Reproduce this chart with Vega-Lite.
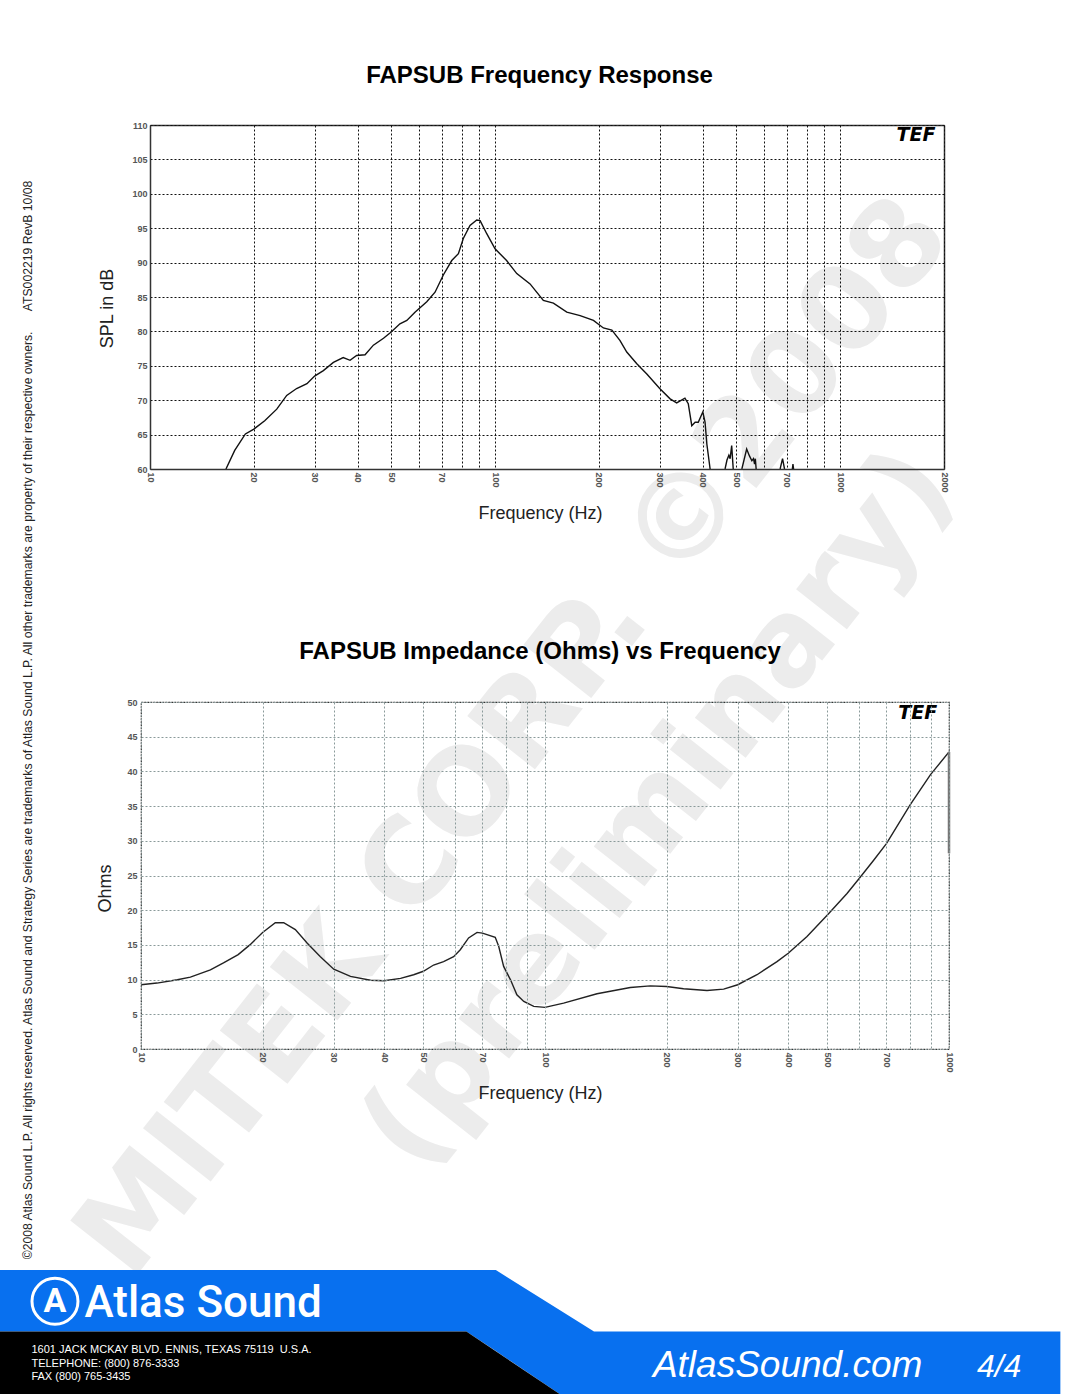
{
"$schema": "https://vega.github.io/schema/vega-lite/v6.json",
"background": "white",
"padding": {"top": 64, "left": 0, "right": 0, "bottom": 0},
"bounds": "flush",
"spacing": 233,
"config": {"font": "Liberation Sans", "view": {"stroke": null}},
"vconcat": [
{
 "width": 803, "height": 344,
 "title": {"text": "FAPSUB Frequency Response", "fontSize": 24, "fontWeight": "bold", "font": "Liberation Sans", "color": "#000", "anchor": "middle", "frame": "group", "baseline": "alphabetic", "offset": 14, "dx": -3},
 "resolve": {"scale": {"x": "independent", "y": "independent"}},
 "layer": [
  {
   "data": {"values": [{"wx": 515, "wy": 738, "label": "MITEK CORP. ©2008"}, {"wx": 660, "wy": 810, "label": "(preliminary)"}]},
   "mark": {"type": "text", "angle": 308.2, "fontSize": 118, "fontWeight": "bold", "font": "DejaVu Sans", "color": "#ececec", "align": "center", "baseline": "middle"},
   "encoding": {
    "x": {"field": "wx", "type": "quantitative", "scale": {"domain": [0, 1080], "range": [-141, 939]}, "axis": null},
    "y": {"field": "wy", "type": "quantitative", "scale": {"domain": [0, 1397], "range": [-125, 1272]}, "axis": null},
    "text": {"field": "label"}
   }
  },
  {
   "data": {"values": [{"wx": 28, "wy": 720, "label": "©2008 Atlas Sound L.P. All rights reserved. Atlas Sound and Strategy Series are trademarks of Atlas Sound L.P. All other trademarks are property of their respective owners.\u00a0\u00a0\u00a0\u00a0\u00a0\u00a0ATS002219 RevB 10/08"}]},
   "mark": {"type": "text", "angle": 270, "fontSize": 12.2, "font": "Liberation Sans", "color": "#222", "align": "center", "baseline": "middle"},
   "encoding": {
    "x": {"field": "wx", "type": "quantitative", "scale": {"domain": [0, 1080], "range": [-141, 939]}, "axis": null},
    "y": {"field": "wy", "type": "quantitative", "scale": {"domain": [0, 1397], "range": [-125, 1272]}, "axis": null},
    "text": {"field": "label"}
   }
  },
  {
   "data": {"values": [
    {"seg": 1, "f": 16.6, "db": 60}, {"seg": 1, "f": 17.6, "db": 62.7}, {"seg": 1, "f": 18.9, "db": 65.1}, {"seg": 1, "f": 20, "db": 65.8},
    {"seg": 1, "f": 21.5, "db": 67.0}, {"seg": 1, "f": 23.3, "db": 68.7}, {"seg": 1, "f": 24.9, "db": 70.7}, {"seg": 1, "f": 26.6, "db": 71.7},
    {"seg": 1, "f": 28.5, "db": 72.4}, {"seg": 1, "f": 30, "db": 73.5}, {"seg": 1, "f": 31.8, "db": 74.3}, {"seg": 1, "f": 34.0, "db": 75.5},
    {"seg": 1, "f": 36.3, "db": 76.2}, {"seg": 1, "f": 38.0, "db": 75.8}, {"seg": 1, "f": 39.7, "db": 76.5}, {"seg": 1, "f": 42.0, "db": 76.6},
    {"seg": 1, "f": 44.4, "db": 78.0}, {"seg": 1, "f": 47.5, "db": 79.0}, {"seg": 1, "f": 50, "db": 79.9}, {"seg": 1, "f": 53.0, "db": 81.1},
    {"seg": 1, "f": 55.5, "db": 81.6}, {"seg": 1, "f": 58.6, "db": 82.8}, {"seg": 1, "f": 63.4, "db": 84.3}, {"seg": 1, "f": 67.0, "db": 85.7},
    {"seg": 1, "f": 70.8, "db": 88.2}, {"seg": 1, "f": 74.9, "db": 90.3}, {"seg": 1, "f": 78.3, "db": 91.3}, {"seg": 1, "f": 80.9, "db": 93.5},
    {"seg": 1, "f": 84.6, "db": 95.4}, {"seg": 1, "f": 88.5, "db": 96.2}, {"seg": 1, "f": 90.5, "db": 96.1}, {"seg": 1, "f": 94.6, "db": 94.2},
    {"seg": 1, "f": 100, "db": 92.0}, {"seg": 1, "f": 108, "db": 90.3}, {"seg": 1, "f": 115.6, "db": 88.4}, {"seg": 1, "f": 126.3, "db": 86.9},
    {"seg": 1, "f": 138, "db": 84.5}, {"seg": 1, "f": 147.6, "db": 84.1}, {"seg": 1, "f": 161.4, "db": 82.8}, {"seg": 1, "f": 176.4, "db": 82.3},
    {"seg": 1, "f": 192.8, "db": 81.6}, {"seg": 1, "f": 206, "db": 80.5}, {"seg": 1, "f": 218, "db": 80.2}, {"seg": 1, "f": 230, "db": 78.7},
    {"seg": 1, "f": 240.8, "db": 77.0}, {"seg": 1, "f": 257.5, "db": 75.3}, {"seg": 1, "f": 275.3, "db": 73.8}, {"seg": 1, "f": 300, "db": 71.7},
    {"seg": 1, "f": 321.6, "db": 70.2}, {"seg": 1, "f": 336, "db": 69.6}, {"seg": 1, "f": 355, "db": 70.3}, {"seg": 1, "f": 363, "db": 69.5},
    {"seg": 1, "f": 371.6, "db": 66.3}, {"seg": 1, "f": 380, "db": 66.8}, {"seg": 1, "f": 388, "db": 66.8}, {"seg": 1, "f": 400, "db": 68.3},
    {"seg": 1, "f": 406, "db": 66.8}, {"seg": 1, "f": 411, "db": 63.6}, {"seg": 1, "f": 420, "db": 60},
    {"seg": 2, "f": 464, "db": 60}, {"seg": 2, "f": 470, "db": 61.3}, {"seg": 2, "f": 476, "db": 62.0}, {"seg": 2, "f": 480, "db": 61.5},
    {"seg": 2, "f": 485, "db": 63.4}, {"seg": 2, "f": 490, "db": 60},
    {"seg": 3, "f": 519, "db": 60}, {"seg": 3, "f": 536, "db": 62.9}, {"seg": 3, "f": 546, "db": 61.9}, {"seg": 3, "f": 555, "db": 61.2},
    {"seg": 3, "f": 561, "db": 61.5}, {"seg": 3, "f": 565, "db": 60.7}, {"seg": 3, "f": 568, "db": 61.5}, {"seg": 3, "f": 571, "db": 60},
    {"seg": 4, "f": 670, "db": 60}, {"seg": 4, "f": 681, "db": 61.5}, {"seg": 4, "f": 690, "db": 60},
    {"seg": 5, "f": 727, "db": 60}, {"seg": 5, "f": 730, "db": 60.7}, {"seg": 5, "f": 733, "db": 60}
   ]},
   "mark": {"type": "line", "color": "#111", "strokeWidth": 1.4, "clip": true},
   "encoding": {
    "x": {"field": "f", "type": "quantitative", "scale": {"type": "log", "domain": [10, 2000], "range": [9, 803]},
     "axis": {"values": [10,20,30,40,50,60,70,80,90,100,200,300,400,500,600,700,800,900,1000,2000], "format": "d",
      "labelExpr": "indexof([10,20,30,40,50,70,100,200,300,400,500,700,1000,2000], datum.value) >= 0 ? datum.label : ''",
      "labelAngle": 90, "labelFontSize": 9, "labelFontWeight": "bold", "labelColor": "#555", "labelPadding": 3, "labelOverlap": false, "labelFlush": false, "labelBound": false,
      "ticks": false, "grid": true, "gridColor": "#111", "gridDash": [2, 2], "gridWidth": 1, "domain": true, "domainColor": "#333", "domainWidth": 1.5,
      "title": "Frequency (Hz)", "titleFontSize": 18, "titleFontWeight": "normal", "titleColor": "#222", "titleX": 399, "titleY": 35, "titleBaseline": "top", "titleAlign": "center", "zindex": 1}},
    "y": {"field": "db", "type": "quantitative", "scale": {"domain": [60, 110], "zero": false},
     "axis": {"values": [60,65,70,75,80,85,90,95,100,105,110], "format": "d", "offset": -9,
      "labelFontSize": 9, "labelFontWeight": "bold", "labelColor": "#555", "labelPadding": 3, "labelOverlap": false, "labelFlush": false,
      "ticks": false, "grid": true, "gridColor": "#111", "gridDash": [2, 2], "gridWidth": 1, "domain": true, "domainColor": "#333", "domainWidth": 1.5,
      "title": "SPL in dB", "titleFontSize": 18, "titleFontWeight": "normal", "titleColor": "#222", "titleX": -43, "titleY": 183, "titleBaseline": "middle", "titleAlign": "center", "zindex": 1}},
    "detail": {"field": "seg", "type": "nominal"}
   }
  },
  {
   "data": {"values": [{"f": 1660, "db": 108.5, "logo": "TEF"}]},
   "mark": {"type": "text", "fontSize": 19, "fontStyle": "italic", "fontWeight": "bold", "font": "DejaVu Sans", "color": "#000", "align": "center", "baseline": "middle"},
   "encoding": {
    "x": {"field": "f", "type": "quantitative", "scale": {"type": "log", "domain": [10, 2000], "range": [9, 803]},
     "axis": {"orient": "top", "labels": false, "ticks": false, "grid": false, "domain": true, "domainColor": "#333", "domainWidth": 1.5, "title": null}},
    "y": {"field": "db", "type": "quantitative", "scale": {"domain": [60, 110], "zero": false},
     "axis": {"orient": "right", "labels": false, "ticks": false, "grid": false, "domain": true, "domainColor": "#333", "domainWidth": 1.5, "title": null}},
    "text": {"field": "logo"}
   }
  }
 ]
},
{
 "width": 808, "height": 347,
 "view": {"stroke": "#333", "strokeDash": [2, 1], "strokeWidth": 1.2},
 "title": {"text": "FAPSUB Impedance (Ohms) vs Frequency", "fontSize": 24, "fontWeight": "bold", "font": "Liberation Sans", "color": "#000", "anchor": "middle", "frame": "group", "baseline": "alphabetic", "offset": 15, "dx": -5},
 "resolve": {"axis": {"x": "independent", "y": "independent"}},
 "layer": [
  {
   "data": {"values": [
    {"f": 10, "ohm": 9.26}, {"f": 10.95, "ohm": 9.5}, {"f": 12.3, "ohm": 9.98}, {"f": 13.25, "ohm": 10.36}, {"f": 14.85, "ohm": 11.4},
    {"f": 16.0, "ohm": 12.4}, {"f": 17.4, "ohm": 13.6}, {"f": 18.6, "ohm": 15.0}, {"f": 20, "ohm": 16.8}, {"f": 21.5, "ohm": 18.2},
    {"f": 22.55, "ohm": 18.2}, {"f": 24.1, "ohm": 17.2}, {"f": 25.8, "ohm": 15.25}, {"f": 27.8, "ohm": 13.3}, {"f": 30, "ohm": 11.5},
    {"f": 33.0, "ohm": 10.46}, {"f": 37.0, "ohm": 9.9}, {"f": 40, "ohm": 9.83}, {"f": 43.9, "ohm": 10.17}, {"f": 47.3, "ohm": 10.7},
    {"f": 50, "ohm": 11.2}, {"f": 53, "ohm": 12.1}, {"f": 56.1, "ohm": 12.6}, {"f": 59.4, "ohm": 13.3}, {"f": 61.7, "ohm": 14.3},
    {"f": 64.7, "ohm": 16.0}, {"f": 67.9, "ohm": 16.8}, {"f": 70, "ohm": 16.7}, {"f": 75.3, "ohm": 16.1}, {"f": 76.8, "ohm": 14.8},
    {"f": 79, "ohm": 11.9}, {"f": 82.1, "ohm": 10.0}, {"f": 85.2, "ohm": 7.8}, {"f": 88.6, "ohm": 6.86}, {"f": 93.8, "ohm": 6.14},
    {"f": 100, "ohm": 6.0}, {"f": 111.2, "ohm": 6.6}, {"f": 134.5, "ohm": 7.96}, {"f": 162.6, "ohm": 8.87}, {"f": 182.2, "ohm": 9.1},
    {"f": 200, "ohm": 9.0}, {"f": 220.3, "ohm": 8.68}, {"f": 251.8, "ohm": 8.44}, {"f": 276.8, "ohm": 8.63}, {"f": 300, "ohm": 9.26},
    {"f": 334.8, "ohm": 10.7}, {"f": 375.2, "ohm": 12.6}, {"f": 400, "ohm": 13.8}, {"f": 445.2, "ohm": 16.2}, {"f": 500, "ohm": 19.3},
    {"f": 559.2, "ohm": 22.4}, {"f": 600, "ohm": 24.6}, {"f": 650.9, "ohm": 27.2}, {"f": 700, "ohm": 29.6}, {"f": 802, "ohm": 35.2},
    {"f": 899, "ohm": 39.5}, {"f": 1000, "ohm": 42.8}
   ]},
   "mark": {"type": "line", "color": "#222", "strokeWidth": 1.4, "clip": true},
   "encoding": {
    "x": {"field": "f", "type": "quantitative", "scale": {"type": "log", "domain": [10, 1000]},
     "axis": {"values": [10,20,30,40,50,60,70,80,90,100,200,300,400,500,600,700,800,900,1000], "format": "d",
      "labelExpr": "indexof([10,20,30,40,50,70,100,200,300,400,500,700,1000], datum.value) >= 0 ? datum.label : ''",
      "labelAngle": 90, "labelFontSize": 9, "labelFontWeight": "bold", "labelColor": "#555", "labelPadding": 3, "labelOverlap": false, "labelFlush": false, "labelBound": false,
      "ticks": false, "grid": true, "gridColor": "#8a9a9a", "gridDash": [2, 2], "gridWidth": 1, "domain": false,
      "title": "Frequency (Hz)", "titleFontSize": 18, "titleFontWeight": "normal", "titleColor": "#222", "titleX": 399, "titleY": 35, "titleBaseline": "top", "titleAlign": "center", "zindex": 1}},
    "y": {"field": "ohm", "type": "quantitative", "scale": {"domain": [0, 50]},
     "axis": {"values": [0,5,10,15,20,25,30,35,40,45,50], "format": "d",
      "labelFontSize": 9, "labelFontWeight": "bold", "labelColor": "#555", "labelPadding": 4, "labelOverlap": false, "labelFlush": false,
      "ticks": false, "grid": true, "gridColor": "#8a9a9a", "gridDash": [2, 2], "gridWidth": 1, "domain": false,
      "title": "Ohms", "titleFontSize": 18, "titleFontWeight": "normal", "titleColor": "#222", "titleX": -36, "titleY": 186, "titleBaseline": "middle", "titleAlign": "center", "zindex": 1}}
   }
  },
  {
   "data": {"values": [{"f": 1000, "lo": 28.2, "hi": 42.8}]},
   "mark": {"type": "rule", "color": "#777", "strokeWidth": 2.5},
   "encoding": {
    "x": {"field": "f", "type": "quantitative", "axis": null},
    "y": {"field": "lo", "type": "quantitative", "axis": null},
    "y2": {"field": "hi"}
   }
  },
  {
   "data": {"values": [{"f": 837, "ohm": 48.4, "logo": "TEF"}]},
   "mark": {"type": "text", "fontSize": 19, "fontStyle": "italic", "fontWeight": "bold", "font": "DejaVu Sans", "color": "#000", "align": "center", "baseline": "middle"},
   "encoding": {
    "x": {"field": "f", "type": "quantitative", "axis": null},
    "y": {"field": "ohm", "type": "quantitative", "axis": null},
    "text": {"field": "logo"}
   }
  }
 ]
},
{
 "width": 939, "height": 115,
 "layer": [
  {
   "data": {"values": [{"px": 0, "top": 0, "bottom": 63}, {"px": 475, "top": 0, "bottom": 63}, {"px": 505, "top": 0, "bottom": 83}, {"px": 570, "top": 41, "bottom": 127}, {"px": 605, "top": 63, "bottom": 127}, {"px": 1080, "top": 63, "bottom": 127}]},
   "mark": {"type": "area", "color": "#0870ef", "interpolate": "linear"},
   "encoding": {
    "x": {"field": "px", "type": "quantitative", "scale": {"domain": [0, 1080], "range": [-141, 939]}, "axis": null},
    "y": {"field": "top", "type": "quantitative", "scale": {"domain": [0, 127], "range": [-12, 115]}, "axis": null},
    "y2": {"field": "bottom"}
   }
  },
  {
   "data": {"values": [{"px": 0, "top": 63, "bottom": 127}, {"px": 475, "top": 63, "bottom": 127}, {"px": 570, "top": 127, "bottom": 127}]},
   "mark": {"type": "area", "color": "#000", "interpolate": "linear"},
   "encoding": {
    "x": {"field": "px", "type": "quantitative", "axis": null},
    "y": {"field": "top", "type": "quantitative", "axis": null},
    "y2": {"field": "bottom"}
   }
  },
  {
   "data": {"values": [{"px": 56, "py": 32}]},
   "mark": {"type": "point", "shape": "circle", "size": 2116, "filled": false, "stroke": "white", "strokeWidth": 3, "opacity": 1},
   "encoding": {
    "x": {"field": "px", "type": "quantitative", "axis": null},
    "y": {"field": "py", "type": "quantitative", "axis": null}
   }
  },
  {
   "data": {"values": [{"px": 56, "py": 33, "label": "A"}]},
   "mark": {"type": "text", "fontSize": 34, "fontWeight": "bold", "font": "Roboto", "color": "white", "align": "center", "baseline": "middle"},
   "encoding": {
    "x": {"field": "px", "type": "quantitative", "axis": null},
    "y": {"field": "py", "type": "quantitative", "axis": null},
    "text": {"field": "label"}
   }
  },
  {
   "data": {"values": [{"px": 86, "py": 48, "label": "Atlas Sound"}]},
   "mark": {"type": "text", "fontSize": 44, "fontWeight": 500, "font": "Roboto", "color": "white", "align": "left", "baseline": "alphabetic"},
   "encoding": {
    "x": {"field": "px", "type": "quantitative", "axis": null},
    "y": {"field": "py", "type": "quantitative", "axis": null},
    "text": {"field": "label"}
   }
  },
  {
   "data": {"values": [{"px": 32, "py": 85, "label": "1601 JACK MCKAY BLVD. ENNIS, TEXAS 75119\u00a0\u00a0U.S.A."}, {"px": 32, "py": 99, "label": "TELEPHONE: (800) 876-3333"}, {"px": 32, "py": 113, "label": "FAX (800) 765-3435"}]},
   "mark": {"type": "text", "fontSize": 11, "font": "Liberation Sans", "color": "white", "align": "left", "baseline": "alphabetic"},
   "encoding": {
    "x": {"field": "px", "type": "quantitative", "axis": null},
    "y": {"field": "py", "type": "quantitative", "axis": null},
    "text": {"field": "label"}
   }
  },
  {
   "data": {"values": [{"px": 665, "py": 110, "label": "AtlasSound.com"}]},
   "mark": {"type": "text", "fontSize": 37, "fontStyle": "italic", "font": "Liberation Sans", "color": "white", "align": "left", "baseline": "alphabetic"},
   "encoding": {
    "x": {"field": "px", "type": "quantitative", "axis": null},
    "y": {"field": "py", "type": "quantitative", "axis": null},
    "text": {"field": "label"}
   }
  },
  {
   "data": {"values": [{"px": 995, "py": 110, "label": "4/4"}]},
   "mark": {"type": "text", "fontSize": 32, "fontStyle": "italic", "font": "Liberation Sans", "color": "white", "align": "left", "baseline": "alphabetic"},
   "encoding": {
    "x": {"field": "px", "type": "quantitative", "axis": null},
    "y": {"field": "py", "type": "quantitative", "axis": null},
    "text": {"field": "label"}
   }
  }
 ]
}
]
}
